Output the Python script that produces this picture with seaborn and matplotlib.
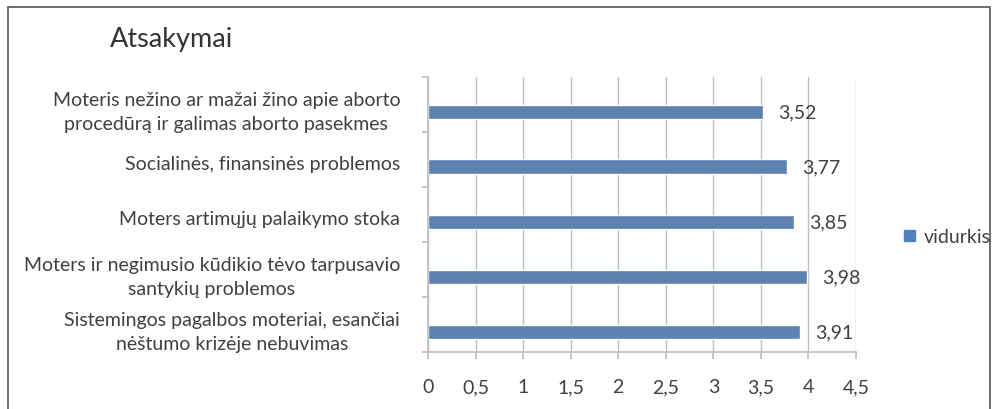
import matplotlib
matplotlib.use("Agg")
import matplotlib.pyplot as plt
import seaborn as sns
import pandas as pd
from matplotlib.patches import Rectangle, Patch

categories = [
    "Moteris nežino ar mažai žino apie aborto\nprocedūrą ir galimas aborto pasekmes",
    "Socialinės, finansinės problemos",
    "Moters artimųjų palaikymo stoka",
    "Moters ir negimusio kūdikio tėvo tarpusavio\nsantykių problemos",
    "Sistemingos pagalbos moteriai, esančiai\nnėštumo krizėje nebuvimas",
]
values = [3.52, 3.77, 3.85, 3.98, 3.91]
series_name = "vidurkis"
x_ticks = [0, 0.5, 1, 1.5, 2, 2.5, 3, 3.5, 4, 4.5]
x_tick_labels = ["0", "0,5", "1", "1,5", "2", "2,5", "3", "3,5", "4", "4,5"]
title = "Atsakymai"

sns.set_theme(style="white")
plt.rcParams["font.family"] = ["Lato", "DejaVu Sans"]

BLUE = "#4F81BD"
TXT = "#404040"
GRID = "#BFBFBF"
FS = 14
SHIFT = 0.13  # bars sit slightly below the centre of each category band

df = pd.DataFrame({"cat": categories, "val": values, "series": series_name})

fig = plt.figure(figsize=(9.93, 4.10), dpi=100)
ax = fig.add_axes([428 / 993, 1 - 353 / 410, 428 / 993, 275 / 410])

sns.barplot(data=df, y="cat", x="val", hue="series", palette=[BLUE],
            orient="h", width=0.26, ax=ax, legend=False)

n = len(categories)
ax.set_xlim(0, 4.5)
ax.set_ylim(n - 0.5 - SHIFT, -0.5 - SHIFT)
ax.set_xticks(x_ticks)
ax.set_xticklabels(x_tick_labels)
ax.set_xlabel("")
ax.set_ylabel("")
ax.xaxis.grid(True, color=GRID, linewidth=1)
ax.set_axisbelow(True)

for s in ["top", "right"]:
    ax.spines[s].set_visible(False)
ax.spines["left"].set_color(GRID)
ax.spines["bottom"].set_color(GRID)

ax.tick_params(axis="x", which="major", length=5, color=GRID, direction="out",
               pad=14, labelsize=FS, labelcolor=TXT, bottom=True)
ax.set_yticks([i + 0.5 - SHIFT for i in range(-1, n)], minor=False)
ax.set_yticklabels([])
ax.set_yticks([i - SHIFT + 0.04 for i in range(n)], minor=True)
ax.set_yticklabels(categories, minor=True, fontsize=FS, color=TXT,
                   multialignment="center", linespacing=1.5)
ax.tick_params(axis="y", which="major", length=4, color=GRID, left=True)
ax.tick_params(axis="y", which="minor", length=0, pad=20)

for c in ax.containers:
    ax.bar_label(c, labels=[f"{v:.2f}".replace(".", ",") for v in c.datavalues],
                 padding=11, fontsize=FS, color=TXT)

fig.legend(handles=[Patch(facecolor=BLUE, edgecolor=BLUE, label=series_name)],
           loc="center left", bbox_to_anchor=(904 / 993, 1 - 238 / 410),
           frameon=False, fontsize=FS, handlelength=0.55, handleheight=0.55,
           handletextpad=0.45, labelcolor=TXT, borderaxespad=0, borderpad=0)

fig.text(110 / 993, 1 - 39 / 410, title, fontsize=19.5, color="#333333",
         va="center", ha="left")

# outer border
fig.patches.append(Rectangle((8 / 993, -0.05), (990 - 8) / 993, 1.05 - 8 / 410,
                             transform=fig.transFigure, fill=False,
                             edgecolor="#555555", linewidth=1.2))

fig.savefig("out.png", dpi=100)
